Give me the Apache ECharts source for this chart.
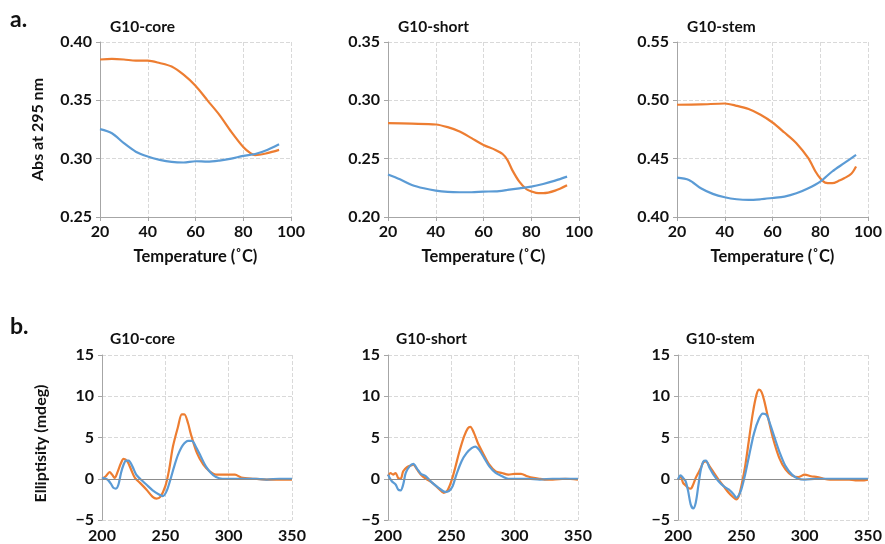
<!DOCTYPE html>
<html><head><meta charset="utf-8">
<script src="https://cdn.jsdelivr.net/npm/echarts@6/dist/echarts.min.js"></script>
<style>html,body{margin:0;padding:0;background:#fff}#c{width:885px;height:544px}</style>
</head><body><div id="c"></div>
<script>
// ---- Data: UV melting (Abs at 295 nm vs Temperature) ----
const panelTitles = ['G10-core', 'G10-short', 'G10-stem'];
const coreOrangeAbs = [[20,0.385],[25,0.3855],[30,0.385],[35,0.384],[40,0.384],[45,0.382],[50,0.379],[55,0.372],[60,0.3625],[65,0.350],[70,0.3376],[75,0.323],[80,0.310],[83,0.3047],[85,0.303],[90,0.3047],[95,0.3075]];
const coreBlueAbs = [[20,0.3253],[25,0.3218],[30,0.3133],[35,0.306],[40,0.3018],[45,0.299],[50,0.2972],[55,0.2967],[60,0.2978],[65,0.2975],[70,0.2984],[75,0.300],[80,0.3024],[85,0.304],[90,0.3075],[95,0.3124]];
const shortOrangeAbs = [[20,0.2804],[30,0.280],[40,0.2793],[45,0.277],[50,0.2733],[55,0.2676],[60,0.2618],[65,0.2575],[68,0.254],[70,0.249],[72,0.2404],[75,0.2303],[78,0.2238],[80,0.222],[83,0.2204],[85,0.2204],[90,0.2226],[95,0.2272]];
const shortBlueAbs = [[20,0.2364],[25,0.2323],[30,0.2275],[35,0.2246],[40,0.2226],[45,0.2215],[50,0.2212],[55,0.2212],[60,0.2218],[65,0.222],[70,0.2232],[75,0.2246],[80,0.226],[85,0.2283],[90,0.2312],[95,0.2346]];
const stemOrangeAbs = [[20,0.4962],[30,0.4965],[40,0.4973],[45,0.4953],[50,0.4925],[55,0.4876],[60,0.481],[65,0.4724],[70,0.4633],[75,0.4504],[78,0.439],[80,0.4332],[82,0.4295],[85,0.429],[88,0.4312],[90,0.4332],[93,0.437],[95,0.4432]];
const stemBlueAbs = [[20,0.4338],[25,0.4318],[30,0.4246],[35,0.4198],[40,0.4169],[45,0.4152],[50,0.4146],[55,0.4152],[60,0.4163],[65,0.4175],[70,0.4203],[75,0.4246],[80,0.4304],[85,0.439],[90,0.4461],[95,0.4532]];
const absYMin = [0.25, 0.20, 0.40];
const absYMax = [0.40, 0.35, 0.55];

// ---- Data: CD spectra (Ellipticity vs wavelength) ----
const coreOrangeCD = [[200,0],[203,0.3],[206,0.8],[208,0.5],[210,0.1],[212,0.7],[215,1.9],[217,2.4],[220,2.1],[223,1.1],[226,0.1],[230,-0.5],[235,-1.3],[240,-2.2],[243,-2.4],[246,-2.2],[250,-0.9],[253,1.1],[256,3.9],[260,6.3],[263,7.8],[265,7.8],[268,6.7],[270,5.5],[275,3.1],[280,1.7],[285,0.9],[290,0.5],[295,0.5],[300,0.5],[305,0.5],[310,0.15],[320,0],[330,-0.1],[340,-0.1],[350,-0.1]];
const coreBlueCD = [[200,0.1],[203,0],[205,-0.2],[207,-0.6],[209,-1.1],[211,-1.2],[213,-0.7],[215,0.7],[217,1.7],[219,2.2],[221,2.2],[224,1.5],[227,0.5],[230,0],[235,-0.7],[240,-1.4],[245,-1.9],[248,-2.1],[251,-1.5],[254,-0.1],[257,1.5],[260,2.9],[264,4.1],[268,4.6],[271,4.6],[274,3.9],[278,2.7],[282,1.5],[286,0.7],[290,0.2],[295,0],[300,0],[310,0],[320,0],[330,-0.1],[340,0],[350,0]];
const shortOrangeCD = [[200,0.3],[202,0.7],[204,0.5],[206,0.7],[208,0.1],[210,0],[212,0.9],[215,1.4],[218,1.6],[220,1.7],[223,1.1],[226,0.5],[230,0],[235,-0.5],[240,-1.2],[244,-1.7],[247,-1.4],[250,-0.3],[253,1.3],[256,3.1],[260,5.1],[263,6.1],[265,6.3],[268,5.5],[271,4.3],[275,3.1],[280,1.7],[285,0.9],[290,0.7],[295,0.5],[300,0.6],[305,0.6],[310,0.3],[315,0.1],[320,0],[325,-0.1],[330,-0.1],[340,0],[350,-0.1]];
const shortBlueCD = [[200,0.5],[203,-0.3],[206,-0.7],[208,-1.3],[210,-1.4],[212,-0.7],[214,0.7],[217,1.5],[220,1.8],[223,1.2],[226,0.6],[230,0.3],[235,-0.5],[240,-1.1],[245,-1.6],[248,-1.5],[251,-0.9],[254,0.5],[258,2.1],[262,3.1],[266,3.7],[269,3.9],[272,3.5],[276,2.5],[280,1.5],[285,0.7],[290,0.3],[295,0],[300,0],[310,0],[320,-0.1],[330,0],[340,0],[350,0]];
const stemOrangeCD = [[200,-0.1],[202,0.3],[204,-0.5],[206,-0.8],[208,-1.1],[210,-1.2],[212,-0.7],[214,0.1],[216,0.7],[218,1.3],[220,2.0],[222,2.1],[225,1.5],[228,0.8],[232,-0.1],[236,-0.9],[240,-1.7],[244,-2.3],[246,-2.5],[248,-2.1],[250,-0.9],[253,1.5],[256,4.7],[259,7.9],[262,10.2],[264,10.8],[266,10.5],[268,9.5],[271,7.5],[275,4.9],[280,2.5],[285,1.1],[290,0.4],[295,0.2],[300,0.5],[305,0.3],[310,0.2],[315,0],[320,-0.1],[330,-0.1],[335,-0.1],[340,-0.2],[345,-0.2],[350,-0.1]];
const stemBlueCD = [[200,-0.1],[202,0.4],[204,0.1],[206,-0.3],[208,-1.5],[210,-3.1],[212,-3.6],[214,-2.9],[216,-0.9],[218,1.1],[220,2.1],[222,2.2],[225,1.3],[228,0.5],[232,-0.3],[236,-0.9],[240,-1.3],[244,-1.9],[246,-2.3],[248,-2.0],[250,-1.3],[253,0.5],[256,2.7],[260,5.5],[264,7.3],[267,7.9],[270,7.7],[273,6.5],[276,5.1],[280,3.3],[285,1.5],[290,0.5],[295,0],[300,-0.1],[310,0],[320,0],[330,0],[340,0],[350,0]];

const orange = '#ED7D31', blue = '#5B9BD5';
const FONT = 'Lato, "Open Sans", sans-serif';
const axisGray = '#A6A6A6', gridGray = '#D9D9D9';

const topLefts = [100, 388, 677];
const botLefts = [102, 388, 678];

const absSeries = [[coreOrangeAbs, coreBlueAbs],[shortOrangeAbs, shortBlueAbs],[stemOrangeAbs, stemBlueAbs]];
const cdSeries = [[coreOrangeCD, coreBlueCD],[shortOrangeCD, shortBlueCD],[stemOrangeCD, stemBlueCD]];

const grid = [], xAxis = [], yAxis = [], series = [], graphic = [];
const labelStyle = {fontFamily: FONT, fontWeight: 'bold', fontSize: 16, color: '#111'};
const splitLine = {show: true, lineStyle: {color: gridGray, type: 'dashed', width: 1}};

for (let i = 0; i < 3; i++) {
  grid.push({left: topLefts[i], top: 42, width: 191, height: 175});
  xAxis.push({type: 'value', gridIndex: i, min: 20, max: 100, interval: 20,
    axisLine: {show: true, onZero: false, lineStyle: {color: axisGray}},
    axisTick: {show: true, length: 4, lineStyle: {color: axisGray}},
    axisLabel: Object.assign({margin: 7}, labelStyle),
    splitLine: splitLine,
    name: 'Temperature (\u02DAC)', nameLocation: 'middle', nameGap: 31,
    nameTextStyle: {fontFamily: FONT, fontWeight: 'bold', fontSize: 16.5, color: '#111'}});
  const yA = {type: 'value', gridIndex: i, min: absYMin[i], max: absYMax[i], interval: 0.05,
    axisLine: {show: true, lineStyle: {color: axisGray}},
    axisTick: {show: true, length: 4, lineStyle: {color: axisGray}},
    axisLabel: Object.assign({margin: 8, formatter: v => v.toFixed(2)}, labelStyle),
    splitLine: splitLine};
  if (i === 0) {
    yA.name = 'Abs at 295 nm'; yA.nameLocation = 'middle'; yA.nameGap = 54;
    yA.nameTextStyle = {fontFamily: FONT, fontWeight: 'bold', fontSize: 16, color: '#111'};
  }
  yAxis.push(yA);
  series.push({type: 'line', xAxisIndex: i, yAxisIndex: i, data: absSeries[i][0], showSymbol: false, smooth: 0.3,
    lineStyle: {color: orange, width: 2.2}, itemStyle: {color: orange}, silent: true});
  series.push({type: 'line', xAxisIndex: i, yAxisIndex: i, data: absSeries[i][1], showSymbol: false, smooth: 0.3,
    lineStyle: {color: blue, width: 2.2}, itemStyle: {color: blue}, silent: true});
  graphic.push({type: 'text', left: topLefts[i] + 10, top: 19,
    style: {text: panelTitles[i], fontFamily: FONT, fontWeight: 'bold', fontSize: 15.5, fill: '#111'}});
}
for (let i = 0; i < 3; i++) {
  const g = i + 3;
  grid.push({left: botLefts[i], top: 355, width: 190, height: 166});
  xAxis.push({type: 'value', gridIndex: g, min: 200, max: 350, interval: 50,
    axisLine: {show: false, onZero: false},
    axisTick: {show: false},
    axisLabel: Object.assign({margin: 8}, labelStyle),
    splitLine: splitLine});
  const yB = {type: 'value', gridIndex: g, min: -5, max: 15, interval: 5,
    axisLine: {show: true, lineStyle: {color: axisGray}},
    axisTick: {show: true, length: 4, lineStyle: {color: axisGray}},
    axisLabel: Object.assign({margin: 8, formatter: v => String(v).replace('-', '\u2212')}, labelStyle),
    splitLine: splitLine};
  if (i === 0) {
    yB.name = 'Elliptisity (mdeg)'; yB.nameLocation = 'middle'; yB.nameGap = 53;
    yB.nameTextStyle = {fontFamily: FONT, fontWeight: 'bold', fontSize: 16, color: '#111', padding: [0, 12, 0, 0]};
  }
  yAxis.push(yB);
  series.push({type: 'line', xAxisIndex: g, yAxisIndex: g, data: cdSeries[i][0], showSymbol: false, smooth: 0.3,
    lineStyle: {color: orange, width: 2.2}, itemStyle: {color: orange}, silent: true, z: 3,
    markLine: {silent: true, symbol: 'none', label: {show: false}, animation: false,
      lineStyle: {color: '#8C8C8C', type: 'solid', width: 1}, data: [{yAxis: 0}]}});
  series.push({type: 'line', xAxisIndex: g, yAxisIndex: g, data: cdSeries[i][1], showSymbol: false, smooth: 0.3,
    lineStyle: {color: blue, width: 2.2}, itemStyle: {color: blue}, silent: true, z: 4});
  graphic.push({type: 'text', left: botLefts[i] + 8, top: 331,
    style: {text: panelTitles[i], fontFamily: FONT, fontWeight: 'bold', fontSize: 15.5, fill: '#111'}});
}
graphic.push({type: 'text', left: 10, top: 8, style: {text: 'a.', fontFamily: FONT, fontWeight: 'bold', fontSize: 23, fill: '#111'}});
graphic.push({type: 'text', left: 10, top: 315, style: {text: 'b.', fontFamily: FONT, fontWeight: 'bold', fontSize: 23, fill: '#111'}});

const chart = echarts.init(document.getElementById('c'), null, {renderer: 'canvas'});
chart.setOption({animation: false, backgroundColor: '#fff', grid, xAxis, yAxis, series, graphic});
</script></body></html>
